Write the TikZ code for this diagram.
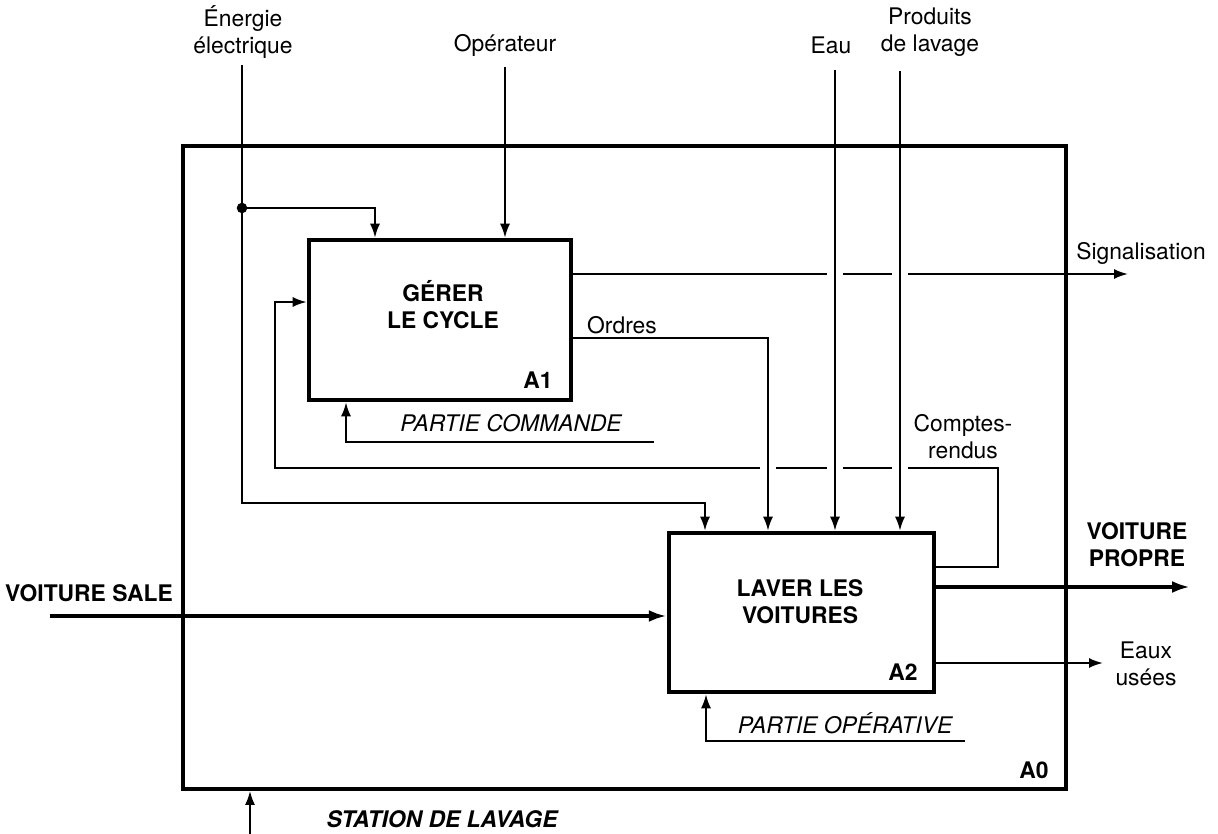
\documentclass[tikz,border=0pt]{standalone}
\usepackage{fontspec}
\setmainfont{TeX Gyre Heros}
\usetikzlibrary{positioning, arrows.meta, calc}

\begin{document}
\begin{tikzpicture}[
    x=0.02cm, y=-0.02cm,
    every node/.style={font=\fontsize{13}{15.5}\selectfont, inner sep=1pt},
    box/.style={rectangle, draw, line width=2.6pt},
    outer/.style={rectangle, draw, line width=2.2pt},
    title/.style={align=center, font=\fontsize{13}{15.5}\selectfont\bfseries},
    tag/.style={font=\fontsize{13}{15.5}\selectfont\bfseries},
    lbl/.style={align=center},
    mech/.style={font=\fontsize{13}{15.5}\selectfont\itshape},
    arrow/.style={-{Latex[length=2.8mm, width=2mm]}, line width=1.1pt},
    bigarrow/.style={-{Latex[length=3.6mm, width=2.4mm]}, line width=2.2pt},
    gap/.style={draw=white, line width=4pt}
  ]
    \useasboundingbox (0,0) rectangle (1218,834);

    % Boxes
    \node[outer, minimum width=17.66cm, minimum height=12.86cm] (A0) at (624.5, 467.5) {};
    \node[box, minimum width=5.24cm, minimum height=3.2cm] (A1) at (440, 320) {};
    \node[box, minimum width=5.3cm, minimum height=3.18cm] (A2) at (801.5, 612.5) {};

    \node[title] (A1-title) at (443, 305) {GÉRER\\LE CYCLE};
    \node[title] (A2-title) at (800, 602) {LAVER LES\\VOITURES};
    \node[tag] (A1-tag) at (538, 380) {A1};
    \node[tag] (A2-tag) at (903, 672) {A2};
    \node[tag] (A0-tag) at (1034, 770) {A0};

    % Inputs and controls (top)
    \node[lbl] (energie) at (243, 32) {Énergie\\électrique};
    \node[lbl] (operateur) at (505, 45) {Opérateur};
    \node[lbl] (eau) at (831, 45) {Eau};
    \node[lbl] (produits) at (930, 32) {Produits\\de lavage};
    \coordinate (en-in) at (242, 65);
    \coordinate (op-in) at (505, 67);
    \coordinate (eau-in) at (835, 70);
    \coordinate (prod-in) at (900, 71);

    % Signalisation and comptes-rendus (drawn first, broken at crossings)
    \coordinate (sig-end) at (1128, 274);
    \node[lbl] (signal) at (1141, 253) {Signalisation};
    \draw[arrow] (sig-end -| A1.east) -- (sig-end);

    \coordinate (cr-a) at (998, 567);
    \coordinate (cr-b) at (275, 468);
    \coordinate (cr-c) at (275, 302);
    \coordinate (ord-c) at (768, 338);
    \node[lbl] (comptes) at (963, 437) {Comptes-\\rendus};
    \draw[arrow] (cr-a -| A2.east) -- (cr-a) |- (cr-b) |- (cr-c -| A1.west);

    \foreach \v/\h in {eau-in/sig-end, prod-in/sig-end, ord-c/cr-b, eau-in/cr-b, prod-in/cr-b}
      \draw[gap] ($(\v |- \h)+(-8,0)$) -- ($(\v |- \h)+(8,0)$);

    % Energie electrique
    \coordinate (dot) at (242, 208);
    \coordinate (a1-in) at (375, 0);
    \coordinate (e-b) at (705, 503);
    \draw[arrow] (en-in) |- (e-b) -- (e-b |- A2.north);
    \draw[arrow] (dot) -| (a1-in |- A1.north);
    \fill (dot) circle (3pt);

    \draw[arrow] (op-in) -- (op-in |- A1.north);
    \draw[arrow] (eau-in) -- (eau-in |- A2.north);
    \draw[arrow] (prod-in) -- (prod-in |- A2.north);

    % Ordres
    \node[lbl] (ordres) at (622, 325) {Ordres};
    \draw[arrow] (ord-c -| A1.east) -- (ord-c) -- (ord-c |- A2.north);

    % Mechanisms
    \coordinate (pc) at (654, 442);
    \coordinate (pc-x) at (346, 0);
    \node[mech] (p-commande) at (511, 423) {PARTIE COMMANDE};
    \draw[arrow] (pc) -| (pc-x |- A1.south);

    \coordinate (po) at (965, 741);
    \coordinate (po-x) at (706, 0);
    \node[mech] (p-operative) at (845, 723) {PARTIE OPÉRATIVE};
    \draw[arrow] (po) -| (po-x |- A2.south);

    % Voitures
    \coordinate (vs-in) at (50, 616);
    \node[tag] (v-sale) at (89, 593) {VOITURE SALE};
    \draw[bigarrow] (vs-in) -- (vs-in -| A2.west);

    \coordinate (vp-out) at (1190, 587);
    \node[tag, align=center] (v-propre) at (1137, 545) {VOITURE\\PROPRE};
    \draw[bigarrow] (vp-out -| A2.east) -- (vp-out);

    \coordinate (eu-out) at (1103, 663);
    \node[lbl] (eaux) at (1146, 664) {Eaux\\usées};
    \draw[arrow] (eu-out -| A2.east) -- (eu-out);

    % Station de lavage
    \coordinate (st-in) at (250, 834);
    \node[font=\fontsize{13}{15.5}\selectfont\bfseries\itshape] (station) at (442, 819) {STATION DE LAVAGE};
    \draw[arrow] (st-in) -- (st-in |- A0.south);

  \end{tikzpicture}
\end{document}
